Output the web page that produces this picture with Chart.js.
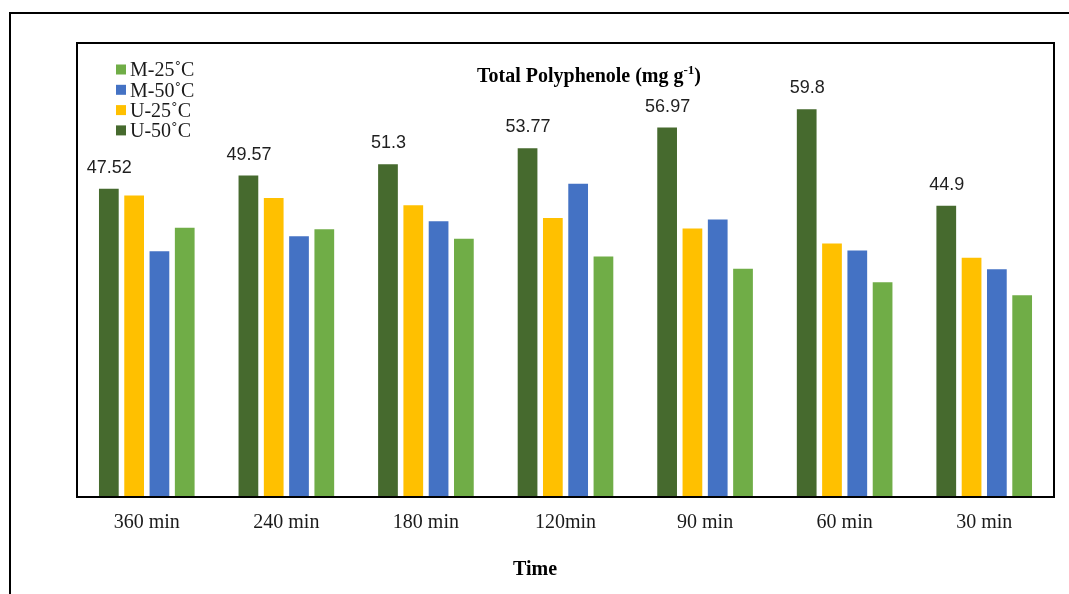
<!DOCTYPE html>
<html>
<head>
<meta charset="utf-8">
<script src="https://cdn.jsdelivr.net/npm/chart.js@4.4.1/dist/chart.umd.min.js"></script>
<style>
  html, body { margin: 0; padding: 0; background: #fff; overflow: hidden; }
  #wrap { position: relative; width: 1069px; height: 594px; }
  #frame { position: absolute; left: 9px; top: 12px; width: 1100px; height: 700px; border: 2px solid #000; box-sizing: border-box; }
  canvas { position: absolute; left: 0; top: 0; }
</style>
</head>
<body>
<div id="wrap">
  <div id="frame"></div>
  <canvas id="c" width="1069" height="594"></canvas>
</div>
<script>
const categories = ['360 min', '240 min', '180 min', '120min', '90 min', '60 min', '30 min'];
const seriesNames = ['U-50˚C', 'U-25˚C', 'M-50˚C', 'M-25˚C'];
const u50 = [47.52, 49.57, 51.3, 53.77, 56.97, 59.8, 44.9];
const u25 = [46.5, 46.1, 45.0, 43.0, 41.4, 39.1, 36.9];
const m50 = [37.9, 40.2, 42.5, 48.3, 42.8, 38.0, 35.1];
const m25 = [41.5, 41.3, 39.8, 37.1, 35.2, 33.1, 31.1];
const u50Labels = ['47.52', '49.57', '51.3', '53.77', '56.97', '59.8', '44.9'];
const colors = ['#466A2E', '#FFC000', '#4472C4', '#70AD47'];
const yMax = 70;

const serif = "'Liberation Serif', 'Times New Roman', serif";
const sans = "'Liberation Sans', Arial, sans-serif";

const boxPlugin = {
  id: 'boxPlugin',
  afterDraw(chart) {
    const { ctx, chartArea: a } = chart;
    ctx.save();
    ctx.strokeStyle = '#000';
    ctx.lineWidth = 2;
    ctx.strokeRect(a.left, a.top, a.right - a.left, a.bottom - a.top);
    ctx.restore();
  }
};

const labelPlugin = {
  id: 'labelPlugin',
  afterDatasetsDraw(chart) {
    const { ctx } = chart;
    const meta = chart.getDatasetMeta(0);
    ctx.save();
    ctx.font = '18px ' + sans;
    ctx.fillStyle = '#1f1f1f';
    ctx.textAlign = 'center';
    ctx.textBaseline = 'alphabetic';
    meta.data.forEach((el, i) => {
      ctx.fillText(u50Labels[i], el.x + 0.5, el.y - 16);
    });
    ctx.restore();
  }
};

const titlePlugin = {
  id: 'titlePlugin',
  afterDraw(chart) {
    const { ctx } = chart;
    ctx.save();
    ctx.fillStyle = '#000';
    ctx.textBaseline = 'alphabetic';
    ctx.textAlign = 'left';
    const mainFont = 'bold 20px ' + serif;
    const supFont = 'bold 13px ' + serif;
    const p1 = 'Total Polyphenole (mg g';
    const p2 = '-1';
    const p3 = ')';
    ctx.font = mainFont; const w1 = ctx.measureText(p1).width; const w3 = ctx.measureText(p3).width;
    ctx.font = supFont; const w2 = ctx.measureText(p2).width;
    const total = w1 + w2 + w3;
    const cx = 589, base = 82;
    let x = cx - total / 2;
    ctx.font = mainFont; ctx.fillText(p1, x, base); x += w1;
    ctx.font = supFont; ctx.fillText(p2, x, base - 8); x += w2;
    ctx.font = mainFont; ctx.fillText(p3, x, base);

    // x-axis title
    ctx.font = 'bold 20px ' + serif;
    ctx.textAlign = 'center';
    ctx.fillText('Time', 535, 575);

    // legend (reversed order), inside plot area
    const order = [3, 2, 1, 0];
    ctx.font = '20px ' + serif;
    ctx.textAlign = 'left';
    ctx.textBaseline = 'middle';
    order.forEach((di, k) => {
      const ds = chart.data.datasets[di];
      const y = 64.5 + k * 20.3;
      ctx.fillStyle = ds.backgroundColor;
      ctx.fillRect(116, y, 10, 10);
      ctx.fillStyle = '#1a1a1a';
      ctx.fillText(ds.label, 130, y + 6.5);
    });
    ctx.restore();
  }
};

const datasets = [u50, u25, m50, m25].map((d, i) => ({
  label: seriesNames[i],
  data: d,
  backgroundColor: colors[i],
  borderWidth: 0,
  categoryPercentage: 0.725,
  barPercentage: 0.78
}));

new Chart(document.getElementById('c'), {
  type: 'bar',
  data: { labels: categories, datasets },
  options: {
    responsive: false,
    animation: false,
    devicePixelRatio: 1,
    layout: { padding: { left: 77, right: 15, top: 43, bottom: 0 } },
    plugins: {
      legend: { display: false },
      tooltip: { enabled: false },
      title: { display: false }
    },
    scales: {
      x: {
        grid: { display: false, drawTicks: false },
        border: { display: false },
        ticks: { color: '#1a1a1a', font: { family: serif, size: 20 }, padding: 14, maxRotation: 0 },
        afterFit(scale) { scale.height = 97; }
      },
      y: {
        display: false,
        min: 0,
        max: yMax
      }
    }
  },
  plugins: [boxPlugin, labelPlugin, titlePlugin]
});
</script>
</body>
</html>
